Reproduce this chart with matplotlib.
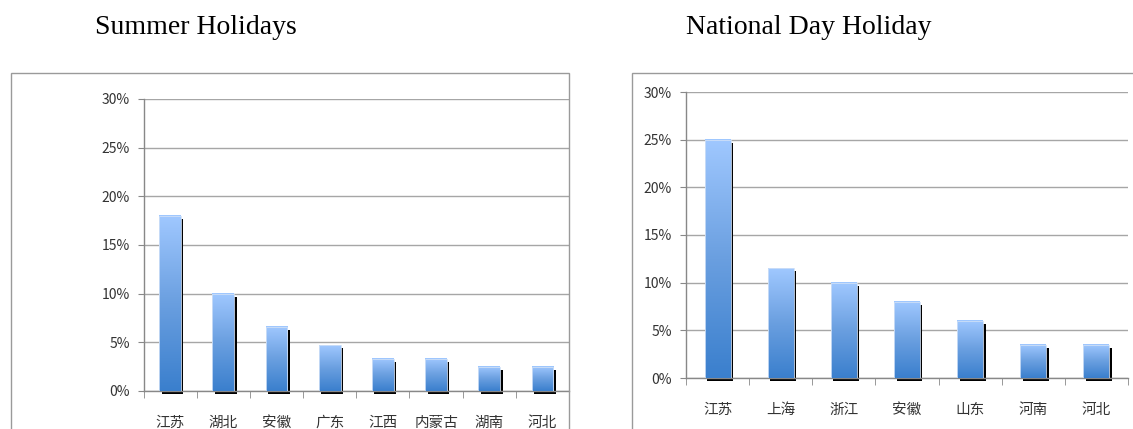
import numpy as np
import matplotlib
matplotlib.use('Agg')
import matplotlib.pyplot as plt
from matplotlib.colors import LinearSegmentedColormap
from matplotlib.patches import Rectangle
from matplotlib.ticker import FuncFormatter, FixedLocator
from matplotlib.transforms import ScaledTranslation

plt.rcParams['font.family'] = ['Noto Sans CJK SC', 'DejaVu Sans']

# Data (share in percent)
summer_regions = ['江苏', '湖北', '安徽', '广东', '江西', '内蒙古', '湖南', '河北']
summer_share = [18.0, 10.0, 6.6, 4.7, 3.3, 3.3, 2.5, 2.5]

national_regions = ['江苏', '上海', '浙江', '安徽', '山东', '河南', '河北']
national_share = [25.0, 11.5, 10.0, 8.0, 6.0, 3.5, 3.5]

y_ticks = [0, 5, 10, 15, 20, 25, 30]

grad = LinearSegmentedColormap.from_list('bar_grad', ['#3a7fcd', '#6a9fe0', '#a0c8ff'])

fig = plt.figure(figsize=(11.33, 4.29), dpi=100)


def draw_chart(ax, labels, values):
    n = len(labels)
    x = np.arange(n)
    width = 0.41

    # black drop shadow, shifted a few pixels right and down
    shadow = ax.bar(x, values, width, color='black', zorder=2)
    offset = ScaledTranslation(0.025, -0.03, fig.dpi_scale_trans)
    for p in shadow:
        p.set_transform(ax.transData + offset)
        p.set_clip_on(False)

    # gradient-filled bars
    g = np.linspace(0, 1, 256).reshape(-1, 1)
    for xi, v in zip(x, values):
        ax.imshow(g, cmap=grad, origin='lower', aspect='auto',
                  extent=(xi - width / 2, xi + width / 2, 0, v), zorder=3)
    ax.bar(x, values, width, facecolor='none', edgecolor='#cfe0f7', lw=0.6, zorder=4)

    ax.set_xlim(-0.5, n - 0.5)
    ax.set_ylim(0, 30)
    ax.set_aspect('auto')

    ax.yaxis.set_major_locator(FixedLocator(y_ticks))
    ax.yaxis.set_major_formatter(FuncFormatter(lambda v, pos: f'{v:.0f}%'))
    ax.grid(axis='y', color='#a6a6a6', lw=1, zorder=0)
    ax.set_axisbelow(True)

    ax.set_xticks(x)
    ax.set_xticklabels(labels, fontsize=10.5, color='#333333')
    ax.set_xticks(np.arange(n + 1) - 0.5, minor=True)
    ax.tick_params(axis='x', which='major', length=0, pad=18)
    ax.tick_params(axis='x', which='minor', length=5, color='#888888', direction='out')
    ax.tick_params(axis='y', length=4, color='#888888', labelsize=10,
                   labelcolor='#333333', pad=6)

    for side in ['top', 'right']:
        ax.spines[side].set_visible(False)
    for side in ['left', 'bottom']:
        ax.spines[side].set_color('#888888')
        ax.spines[side].set_linewidth(1)


W, H = 1133, 429

ax1 = fig.add_axes([143.5 / W, 1 - 391 / H, (569 - 143.5) / W, (391 - 99) / H])
draw_chart(ax1, summer_regions, summer_share)

ax2 = fig.add_axes([686 / W, 1 - 378 / H, (1128 - 686) / W, (378 - 92) / H])
draw_chart(ax2, national_regions, national_share)

# outer chart frames
fig.patches.append(Rectangle((11 / W, -0.05), (569 - 11) / W, 1.05 - 73 / H,
                             transform=fig.transFigure, fill=False,
                             edgecolor='#9a9a9a', lw=1))
fig.patches.append(Rectangle((632 / W, -0.05), 0.5, 1.05 - 73 / H,
                             transform=fig.transFigure, fill=False,
                             edgecolor='#9a9a9a', lw=1))

fig.text(196 / W, 1 - 28 / H, 'Summer Holidays', family='Liberation Serif',
         fontsize=20, ha='center', va='center')
fig.text(809 / W, 1 - 28 / H, 'National Day Holiday', family='Liberation Serif',
         fontsize=20, ha='center', va='center')

fig.savefig('out.png', dpi=100)
